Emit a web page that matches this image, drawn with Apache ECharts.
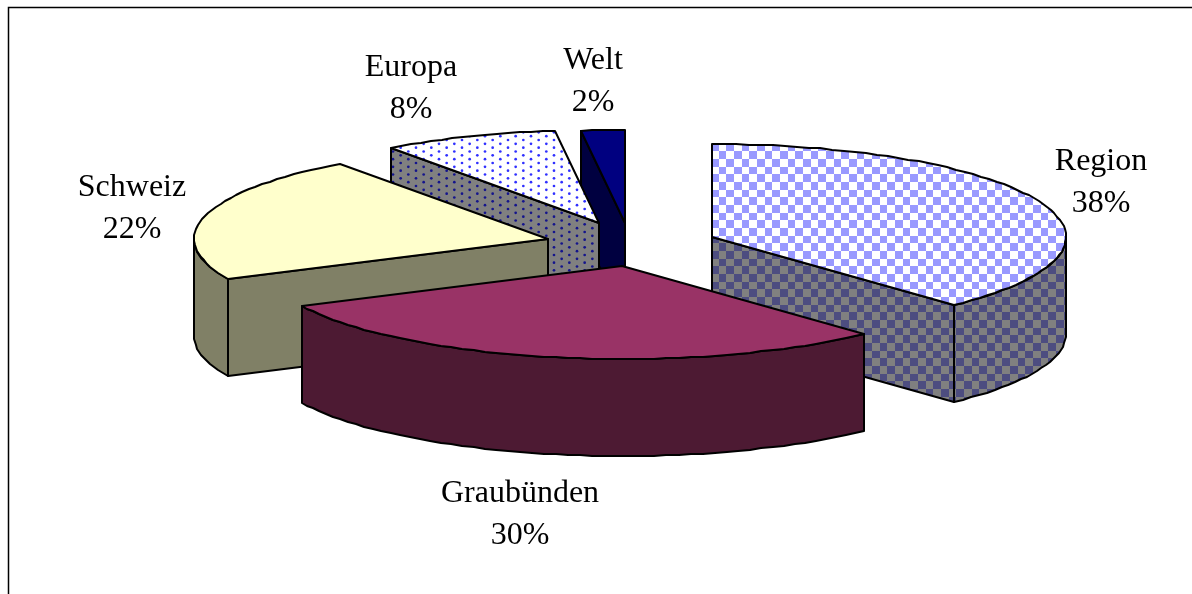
<!DOCTYPE html>
<html>
<head>
<meta charset="utf-8">
<style>html,body{margin:0;padding:0;background:#fff;overflow:hidden}#chart{width:1192px;height:594px}</style>
<script src="https://cdn.jsdelivr.net/npm/echarts@6/dist/echarts.min.js"></script>
</head>
<body>
<div id="chart"></div>
<script>
// Data
const categories = ['Region', 'Graubünden', 'Schweiz', 'Europa', 'Welt'];
const shares = [38, 30, 22, 8, 2];

// Pie geometry: an exploded, tilted pie with a flat ellipse as its top
const radiusX = 354, radiusY = 93, wallHeight = 97;
const pieCentre = [632, 244];
const sliceOffsets = [[80, -7], [-10, 22], [-84, -5], [-33, -21], [-7, -21]];
const labelAnchors = [[1101, 181], [520, 513], [132, 207], [411, 87], [593, 80]];
const backToFront = [4, 3, 2, 0, 1];
const labelFont = '32px "Liberation Serif"';
const labelLineGap = 42;
const labelDrop = 2;

// Fill patterns: three repeats of a 15.33px cell, so a whole canvas tile stays seamless
const tileSize = 46, cell = tileSize / 6;
function tile(paint) {
  const c = document.createElement('canvas');
  c.width = c.height = tileSize;
  paint(c.getContext('2d'));
  return { image: c, repeat: 'repeat' };
}
function checker(bg, fg, shift) {
  return tile(ctx => {
    ctx.fillStyle = bg; ctx.fillRect(0, 0, tileSize, tileSize);
    ctx.fillStyle = fg;
    for (let r = -2; r < 8; r++) for (let k = -2; k < 8; k++) {
      if ((r + k + 200) % 2 === 0) {
        const x0 = Math.round(k * cell + shift), x1 = Math.round((k + 1) * cell + shift);
        const y0 = Math.round(r * cell + shift), y1 = Math.round((r + 1) * cell + shift);
        ctx.fillRect(x0, y0, x1 - x0, y1 - y0);
      }
    }
  });
}
// Staggered dots: every other row shifts one cell across, half a cell down
function dotted(bg, fg) {
  return tile(ctx => {
    ctx.fillStyle = bg; ctx.fillRect(0, 0, tileSize, tileSize);
    ctx.fillStyle = fg;
    for (let r = 0; r < 12; r++) {
      for (let k = 0; k < 3; k++) {
        const x = 2 + k * 2 * cell + (r % 2) * cell;
        const y = 2 + r * cell / 2;
        ctx.beginPath(); ctx.arc(x, y, 1.35, 0, Math.PI * 2); ctx.fill();
      }
    }
  });
}
const topFills = [checker('#ffffff', '#9999ff', 5.5), '#993366', '#ffffcc', dotted('#ffffff', '#3030ff'), '#000080'];
const wallFills = [checker('#808080', '#4d4d80', 5.5), '#4d1a33', '#808066', dotted('#808080', '#14148c'), '#000040'];

const total = shares.reduce((a, b) => a + b, 0);
const toDegrees = v => echarts.number.linearMap(v, [0, total], [0, 360]);
const startShares = shares.map((_, i) => shares.slice(0, i).reduce((a, b) => a + b, 0));

function rimPoint(cx, cy, deg, drop) {
  const a = deg * Math.PI / 180;
  return [Math.round(cx + radiusX * Math.sin(a)), Math.round(cy - radiusY * Math.cos(a) + drop)];
}
function rim(cx, cy, from, to, drop) {
  const steps = Math.max(1, Math.ceil(Math.abs(to - from) / 2));
  const pts = [];
  for (let k = 0; k <= steps; k++) pts.push(rimPoint(cx, cy, from + (to - from) * k / steps, drop));
  return pts;
}
function face(points, fill) {
  return {
    type: 'polygon',
    shape: { points },
    style: { fill, stroke: '#000', lineWidth: 2, lineJoin: 'round' }
  };
}

function renderSlice(params, api) {
  const i = api.value(0);
  const from = toDegrees(startShares[i]);
  const to = toDegrees(startShares[i] + shares[i]);
  const cx = pieCentre[0] + sliceOffsets[i][0];
  const cy = pieCentre[1] + sliceOffsets[i][1];
  const apex = [cx, cy], apexLow = [cx, cy + wallHeight];
  const children = [];
  const cutWall = deg => face([apex, rimPoint(cx, cy, deg, 0), rimPoint(cx, cy, deg, wallHeight), apexLow], wallFills[i]);

  // Only the walls turned toward the viewer are drawn
  if (Math.sin(from * Math.PI / 180) < -1e-6) children.push(cutWall(from));
  if (Math.sin(to * Math.PI / 180) > 1e-6) children.push(cutWall(to));
  const a0 = Math.max(from, 90), a1 = Math.min(to, 270);
  if (a1 > a0) {
    children.push(face(rim(cx, cy, a0, a1, 0).concat(rim(cx, cy, a1, a0, wallHeight)), wallFills[i]));
  }
  children.push(face([apex].concat(rim(cx, cy, from, to, 0)), topFills[i]));
  return { type: 'group', children };
}

function renderLabel(params, api) {
  const i = api.value(0);
  const [x, y] = labelAnchors[i];
  const line = (text, dy) => ({
    type: 'text',
    style: { text, x, y: y + labelDrop + dy, font: labelFont, fill: '#000', align: 'center', verticalAlign: 'middle' }
  });
  return {
    type: 'group',
    children: [line(categories[i], -labelLineGap / 2), line(shares[i] + '%', labelLineGap / 2)]
  };
}

const chart = echarts.init(document.getElementById('chart'), null, { renderer: 'canvas' });
chart.setOption({
  animation: false,
  backgroundColor: '#ffffff',
  graphic: [{
    type: 'polyline',
    silent: true,
    shape: { points: [[8.5, 594], [8.5, 7.5], [1192, 7.5]] },
    style: { fill: 'none', stroke: '#000', lineWidth: 1.5 }
  }],
  series: [
    { type: 'custom', coordinateSystem: 'none', silent: true, renderItem: renderSlice, data: backToFront.map(i => [i]), z: 2 },
    { type: 'custom', coordinateSystem: 'none', silent: true, renderItem: renderLabel, data: categories.map((_, i) => [i]), z: 3 }
  ]
});
</script>
</body>
</html>
